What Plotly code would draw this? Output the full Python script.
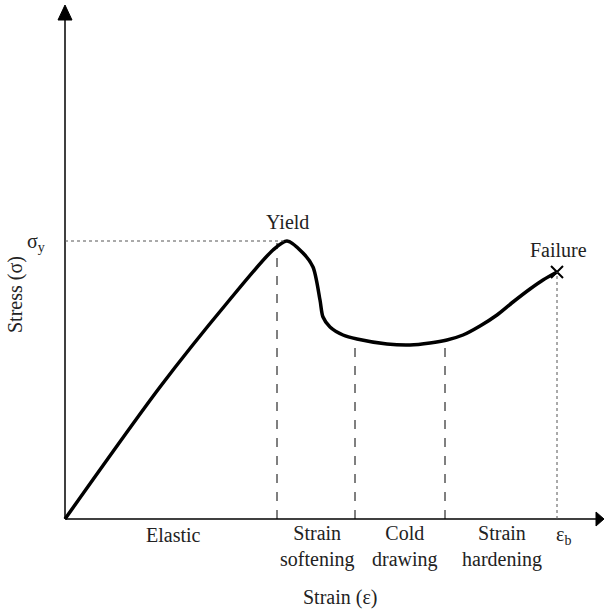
import plotly.graph_objects as go

# Curve (arbitrary units: strain, stress)
strain = [0, 95, 162, 208, 222, 238, 248, 255, 258, 265, 278, 292, 322, 345,
          365, 382, 398, 415, 432, 448, 465, 478, 492]
stress = [0, 132, 216, 269, 278, 266, 252, 219, 202, 192, 184, 180, 175, 174,
          176, 179, 184, 193, 204, 217, 230, 239, 247]

yield_strain, yield_stress = 222, 278
region_bounds = [212, 290, 380]
bound_stress = [276, 180, 179]
failure_strain, failure_stress = 492, 247

region_labels = ["Elastic", "Strain<br>softening", "Cold<br>drawing", "Strain<br>hardening"]
region_centers = [108, 252, 340, 437]

FONT = "Liberation Serif"
TXT = "#222222"
FS = 20

fig = go.Figure()
fig.add_trace(go.Scatter(x=strain, y=stress, mode="lines",
                         line=dict(color="black", width=3.5, shape="spline", smoothing=0.8),
                         hoverinfo="skip", showlegend=False))
fig.add_trace(go.Scatter(x=[failure_strain], y=[failure_stress], mode="markers",
                         marker=dict(symbol="x-thin", size=12, line=dict(color="black", width=2)),
                         showlegend=False, hoverinfo="skip"))

shapes = []
# axes
shapes.append(dict(type="line", xref="x", yref="y", x0=0, y0=0, x1=533, y1=0,
                   line=dict(color="black", width=1.5)))
shapes.append(dict(type="line", xref="x", yref="y", x0=0, y0=0, x1=0, y1=505,
                   line=dict(color="black", width=1.5)))
shapes.append(dict(type="path", xref="x", yref="y", path="M 531 7 L 539 0 L 531 -7 Z",
                   fillcolor="black", line=dict(color="black", width=1)))
shapes.append(dict(type="path", xref="x", yref="y", path="M -7 499 L 0 514 L 7 499 Z",
                   fillcolor="black", line=dict(color="black", width=1)))
# dashed region boundaries
for bx, by in zip(region_bounds, bound_stress):
    shapes.append(dict(type="line", xref="x", yref="y", x0=bx, y0=0, x1=bx, y1=by,
                       line=dict(color="black", width=1, dash="dash")))
# dotted guides
shapes.append(dict(type="line", xref="x", yref="y", x0=0, y0=yield_stress, x1=yield_strain, y1=yield_stress,
                   line=dict(color="#555555", width=1, dash="dot")))
shapes.append(dict(type="line", xref="x", yref="y", x0=failure_strain, y0=0, x1=failure_strain, y1=failure_stress,
                   line=dict(color="#555555", width=1, dash="dot")))

# plot area: left 55px, width 550px; top 0, height 529px; 1 data unit = 1 px, origin at (65, 519)
ann = []
def t(x, y, s, size=FS, **kw):
    px = 65 + x
    py = 519 - y
    ann.append(dict(x=(px - 55) / 550, y=(529 - py) / 529, xref="paper", yref="paper",
                    text=s, showarrow=False, xanchor="center", yanchor="middle",
                    font=dict(family=FONT, size=size, color=TXT), **kw))

for lab, cx in zip(region_labels, region_centers):
    if "<br>" in lab:
        t(cx, -27, lab)
    else:
        t(cx, -16, lab)
t(498, -16, "ε<sub>b</sub>")
t(275, -78, "Strain (ε)")
t(-50, 224, "Stress (σ)", textangle=-90)
t(-29, 277, "σ<sub>y</sub>")
t(yield_strain, 297, "Yield")
t(failure_strain + 1, 269, "Failure")

fig.update_layout(
    width=605, height=609,
    margin=dict(l=55, r=0, t=0, b=80, pad=0),
    paper_bgcolor="white", plot_bgcolor="white",
    xaxis=dict(range=[-10, 540], visible=False, fixedrange=True),
    yaxis=dict(range=[-10, 519], visible=False, fixedrange=True),
    shapes=shapes, annotations=ann,
)
fig.write_html("out.html", config={"displayModeBar": False},
               post_script="document.body.style.margin='0';document.body.style.overflow='hidden';")
